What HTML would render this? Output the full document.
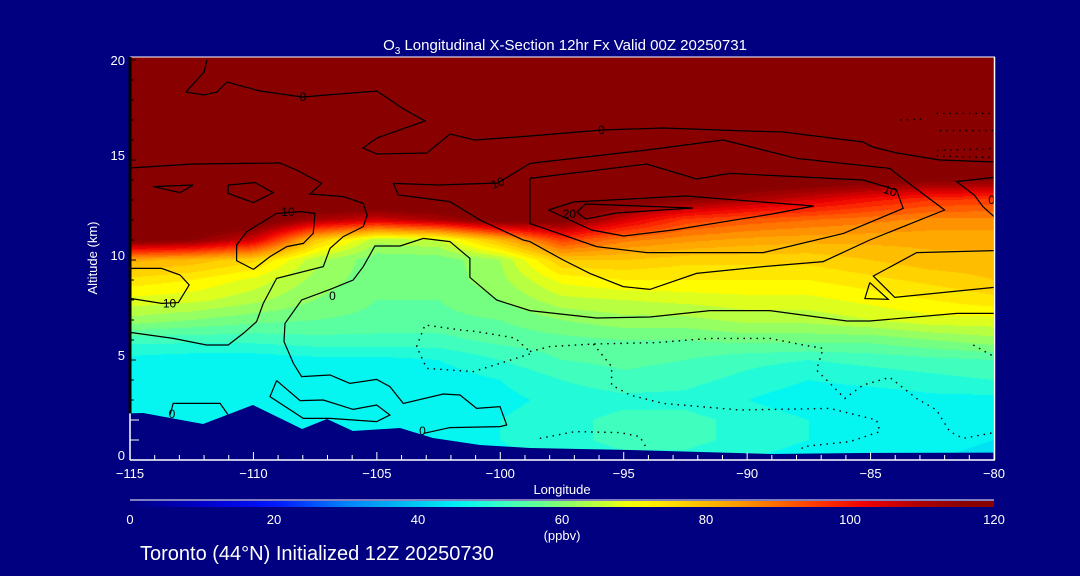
<!DOCTYPE html>
<html><head><meta charset="utf-8">
<style>
html,body{margin:0;padding:0;background:#000080;}
#wrap{position:relative;width:1080px;height:576px;overflow:hidden;background:#000080;font-family:"Liberation Sans",sans-serif;}
canvas{position:absolute;left:0;top:0;}
svg{position:absolute;left:0;top:0;}
</style></head>
<body>
<div id="wrap">
<canvas id="field" width="1080" height="576"></canvas>
<svg id="ov" width="1080" height="576" xmlns="http://www.w3.org/2000/svg">
<text x="565" y="50" fill="#fff" font-size="15" text-anchor="middle">O<tspan font-size="10" dy="4">3</tspan><tspan dy="-4"> Longitudinal X-Section 12hr  Fx Valid 00Z 20250731</tspan></text>
<text x="562" y="494" fill="#fff" font-size="13" text-anchor="middle">Longitude</text>
<text x="97" y="258" fill="#fff" font-size="13" text-anchor="middle" transform="rotate(-90 97 258)">Altitude (km)</text>
<text x="562" y="540" fill="#fff" font-size="13" text-anchor="middle">(ppbv)</text>
<text x="140" y="560" fill="#fff" font-size="20">Toronto (44°N) Initialized 12Z 20250730</text>
</svg>
</div>
<script>
// ---- data ----
const lons = [-115,-112.5,-110,-107.5,-105,-102.5,-100,-97.5,-95,-92.5,-90,-87.5,-85,-82.5,-80];
const alts = [0,1,2,3,4,5,6,7,8,9,10,11,12,13,14,15,16,17,18,19,20];
const o3_0  = [40,40,40,40,45,45,47,49,50,50,48,46,46,45,44];
const o3_1  = [44,44,45,45,46,46,48,50,52,52,50,48,47,46,45];
const o3_2  = [46,46,46,46,46,46,48,50,52,52,50,48,47,46,46];
const o3_3  = [45,45,45,45,45,45,47,49,50,50,48,46,46,47,47];
const o3_4  = [46,45,45,46,46,46,48,51,53,52,50,48,49,50,51];
const o3_5  = [47,46,46,47,47,48,51,54,55,54,52,51,52,53,54];
const o3_6  = [52,52,52,53,53,53,55,56,57,57,58,58,58,60,62];
const o3_7  = [62,60,58,57,56,56,57,60,62,62,64,64,66,68,68];
const o3_8  = [68,67,64,60,57,57,60,65,66,67,68,68,70,72,74];
const o3_9  = [74,72,68,62,58,58,62,70,72,72,72,72,74,76,78];
const o3_10 = [82,80,76,64,58,58,63,78,78,76,76,76,78,80,80];
const o3_11 = [118,115,105,78,64,66,80,95,88,85,83,82,82,82,82];
const o3_12 = [125,125,122,110,105,110,118,118,105,95,92,90,88,86,86];
const o3_13 = [125,125,125,125,125,125,125,125,120,115,110,105,100,96,95];
const o3_14 = [125,125,125,125,125,125,125,125,125,125,122,120,118,116,115];
const o3_hi = [125,125,125,125,125,125,125,125,125,125,125,125,125,125,125];
const o3 = [o3_0,o3_1,o3_2,o3_3,o3_4,o3_5,o3_6,o3_7,o3_8,o3_9,o3_10,o3_11,o3_12,o3_13,o3_14,o3_hi,o3_hi,o3_hi,o3_hi,o3_hi,o3_hi];

const terrainLon = [-115,-114.47,-112.04,-110.02,-108.03,-107.02,-105.97,-104.06,-103.13,-102.73,-100.82,-98.8,-94.75,-89.08,-85.3,-80];
const terrainAlt = [2.33,2.35,1.8,2.75,1.55,2.05,1.45,1.6,1.25,1.1,0.75,0.6,0.5,0.3,0.35,0.37];

const xTicks = [-115,-110,-105,-100,-95,-90,-85,-80];
const yTicks = [0,5,10,15,20];
const cbTicks = [0,20,40,60,80,100,120];

const cmapVals = [0,10,20,30,40,46,52,58,65,70,78,85,95,102,110,116,125];
const cmapCols = [[0,0,130],[0,0,200],[0,20,255],[0,130,250],[0,200,240],[0,245,245],[60,255,195],[110,255,135],[190,255,60],[255,255,0],[255,200,0],[255,150,0],[255,60,0],[240,0,0],[170,0,0],[136,0,0],[136,0,0]];

const cTop0 = [[-111.88,20],[-112.0,19.4],[-112.73,18.4],[-112.0,18.25],[-111.48,18.4],[-111.07,18.9],[-109.73,18.45],[-108.03,18.15],[-106.01,18.35],[-105.0,18.45],[-103.98,17.6],[-103.05,16.95],[-105.0,16.1],[-105.56,15.6],[-105.0,15.3],[-102.97,15.35],[-102.04,16.3],[-101.03,16.0],[-98.8,16.2],[-95.88,16.5],[-93.41,16.6],[-90.01,16.45],[-88.55,16.4],[-85.31,15.9],[-84.91,15.65],[-83.93,15.35],[-82.19,15.0],[-80,14.9]];
const cLeftLong = [[-115,14.6],[-112.45,14.8],[-108.93,14.85],[-108.25,14.5],[-107.24,13.83],[-107.71,13.3],[-106.36,13.17],[-105.55,12.83],[-105.39,12.25],[-105.55,11.67],[-106.36,11.17],[-106.9,10.58],[-107.17,9.67],[-109.06,9.08],[-109.6,7.83],[-109.87,6.92],[-110.41,6.33],[-111.02,5.75],[-111.9,5.75],[-113.25,6.08],[-115,6.38]];
const cLoopA = [[-114.06,13.67],[-112.44,13.75],[-112.97,13.37],[-114.06,13.67]];
const cLoopB = [[-111.02,13.75],[-109.94,13.87],[-109.2,13.37],[-110.0,12.87],[-111.02,13.33],[-111.02,13.75]];
const cTen = [[-110.0,9.53],[-110.68,9.97],[-110.68,10.75],[-110.27,11.42],[-109.06,12.33],[-108.11,12.42],[-107.51,12.33],[-107.58,11.33],[-107.98,10.83],[-108.65,10.67],[-109.33,10.17],[-110.0,9.53]];
const cTenLow = [[-115,9.58],[-113.72,9.58],[-112.97,9.25],[-112.6,8.75],[-113.04,7.87],[-113.72,7.83],[-115,8.08]];
const cMid0 = [[-103.12,1.33],[-102.04,1.62],[-100.01,1.67],[-99.74,1.75],[-100.01,2.67],[-100.96,2.58],[-101.63,3.25],[-102.31,3.3],[-103.93,2.83],[-104.47,3.67],[-105.01,4.03],[-106.09,3.83],[-106.9,4.25],[-108.05,4.17],[-108.38,4.83],[-108.76,5.92],[-108.72,6.83],[-108.05,8.0],[-106.9,8.53],[-105.96,9.0],[-105.55,9.67],[-105.08,10.7],[-104.06,10.7],[-103.12,11.08],[-102.04,10.92],[-101.23,10.08],[-101.23,9.13],[-100.15,8.0],[-98.8,7.47],[-96.1,7.1],[-93.94,7.15],[-91.51,7.47],[-89.08,7.47],[-85.96,6.95],[-85.03,6.95],[-81.5,7.33],[-80,7.33]];
const cZig = [[-109.06,3.97],[-109.33,3.17],[-107.98,2.08],[-106.9,2.08],[-105.01,1.92],[-104.47,2.25],[-105.01,2.75],[-105.96,2.53],[-107.17,3.0],[-108.11,2.97],[-109.06,3.97]];
const cSurf = [[-113.38,2.25],[-113.25,2.83],[-111.35,2.83],[-111.02,2.25]];
const cOuter = [[-98.8,14.83],[-100.1,13.85],[-102.5,13.75],[-104.33,13.83],[-104.13,13.25],[-102.04,12.92],[-100.82,12.0],[-99.07,11.0],[-98.8,10.92],[-97.45,10.0],[-96.37,9.33],[-95.02,8.67],[-93.94,8.53],[-92.05,9.33],[-89.35,9.67],[-86.92,9.92],[-85.03,11.0],[-82.0,12.5],[-83.54,13.92],[-84.22,14.58],[-88.0,15.08],[-90.97,16.0],[-94.07,15.5],[-98.8,14.83]];
const cInner = [[-98.8,14.08],[-94.07,14.8],[-92.05,14.05],[-90.7,14.33],[-85.3,14.0],[-83.95,13.5],[-83.68,12.58],[-86.1,11.33],[-89.35,10.37],[-94.07,10.37],[-96.1,10.67],[-98.8,11.83],[-98.8,14.08]];
const cLoop15 = [[-98.05,12.5],[-97.05,12.9],[-92.5,13.2],[-87.3,12.7],[-89.0,12.3],[-93.0,11.5],[-95.0,11.2],[-96.3,11.5],[-98.05,12.5]];
const c20 = [[-96.9,12.4],[-96.55,12.8],[-92.2,12.6],[-95.3,12.35],[-96.55,12.05],[-96.9,12.4]];
const cRightA = [[-80,10.47],[-83.13,10.37],[-84.89,9.2],[-84.02,8.13],[-80,8.63]];
const cTri = [[-85.03,8.87],[-85.23,8.07],[-84.28,8.03],[-85.03,8.87]];
const cRightB = [[-80,14.13],[-81.52,13.92],[-80.8,13.25],[-80.45,12.67],[-80,12.17]];
const solidContours = [cTop0,cLeftLong,cLoopA,cLoopB,cTen,cTenLow,cMid0,cZig,cSurf,cOuter,cInner,cLoop15,c20,cRightA,cTri,cRightB];

const d1 = [[-98.8,5.42],[-98.0,5.67],[-96.23,5.8],[-93.67,5.87],[-91.51,6.08],[-89.08,6.08],[-87.73,5.75],[-86.92,5.58],[-87.19,4.5],[-86.78,4.0],[-86.04,3.08],[-85.3,3.75],[-84.22,4.13],[-83.14,3.08],[-82.33,2.5],[-81.79,1.42],[-81.25,1.08],[-80,1.37]];
const d2 = [[-96.23,5.8],[-95.49,4.67],[-95.49,3.75],[-94.75,3.25],[-93.4,2.83],[-90.3,2.5],[-86.65,2.58],[-84.76,2.0],[-84.62,1.42],[-85.84,0.92],[-87.73,0.67],[-87.86,0.42]];
const d3 = [[-98.4,1.08],[-96.98,1.42],[-95.15,1.37],[-94.35,1.17],[-94.07,0.58]];
const d4 = [[-80.84,5.75],[-80,5.17]];
const d5 = [[-98.8,5.3],[-101.09,4.42],[-102.98,4.58],[-103.39,5.67],[-103.05,6.75],[-101.6,6.5],[-100.96,6.42],[-99.4,6.1],[-98.8,5.42]];
const d6 = [[-83.8,17.0],[-82.9,17.05]];
const d7 = [[-82.33,17.33],[-80,17.33]];
const d8 = [[-82.2,16.47],[-80,16.47]];
const d9 = [[-82.3,15.47],[-80,15.58]];
const d10 = [[-82.33,15.2],[-80,15.12]];
const dottedContours = [d1,d2,d3,d4,d5,d6,d7,d8,d9,d10];

const labelText = ["0","10","10","10","0","0","0","10","20","0","0"];
const labelLon  = [-108.0,-108.6,-113.4,-100.1,-106.8,-103.15,-113.3,-84.2,-97.2,-95.9,-80.1];
const labelAlt  = [18.15,12.4,7.83,13.85,8.2,1.45,2.3,13.45,12.3,16.5,13.0];
const labelAng  = [0,0,0,-20,0,0,0,20,0,0,0];

// ---- scales ----
const X0=130, X1=994, YB=460;
const X = lon => X0 + (lon+115)*(X1-X0)/35;
const Y = alt => YB - alt*20;

function cmap(v){
  if(v<=cmapVals[0]) return cmapCols[0];
  for(let i=1;i<cmapVals.length;i++){
    if(v<=cmapVals[i]){
      const t=(v-cmapVals[i-1])/(cmapVals[i]-cmapVals[i-1]);
      const a=cmapCols[i-1],b=cmapCols[i];
      return [a[0]+(b[0]-a[0])*t,a[1]+(b[1]-a[1])*t,a[2]+(b[2]-a[2])*t];
    }
  }
  return cmapCols[cmapCols.length-1];
}
function interp1(xs,ys,x){
  if(x<=xs[0]) return ys[0];
  for(let i=1;i<xs.length;i++) if(x<=xs[i]){const t=(x-xs[i-1])/(xs[i]-xs[i-1]);return ys[i-1]+(ys[i]-ys[i-1])*t;}
  return ys[ys.length-1];
}
function field(lon,alt){
  let fi=(lon-lons[0])/(lons[1]-lons[0]); fi=Math.max(0,Math.min(lons.length-1.0001,fi));
  let fj=(alt-alts[0])/(alts[1]-alts[0]); fj=Math.max(0,Math.min(alts.length-1.0001,fj));
  const i=Math.floor(fi),j=Math.floor(fj),tx=fi-i,ty=fj-j;
  const a=o3[j][i],b=o3[j][i+1],c=o3[j+1][i],d=o3[j+1][i+1];
  return (a*(1-tx)+b*tx)*(1-ty)+(c*(1-tx)+d*tx)*ty;
}

// ---- field ----
const cv=document.getElementById('field');
const ctx=cv.getContext('2d');
const img=ctx.createImageData(X1-X0,YB-57);
for(let py=57;py<YB;py++){
  const alt=Math.min(20,(YB-py-0.5)/20);
  for(let px=X0;px<X1;px++){
    const lon=-115+(px-X0+0.5)*35/(X1-X0);
    let v=field(lon,alt);
    v=Math.floor(v/3)*3+1.5;
    const c=cmap(v);
    const k=((py-57)*(X1-X0)+(px-X0))*4;
    img.data[k]=c[0];img.data[k+1]=c[1];img.data[k+2]=c[2];img.data[k+3]=255;
  }
}
ctx.putImageData(img,X0,57);

// ---- overlay ----
const NS="http://www.w3.org/2000/svg";
const ov=document.getElementById('ov');
function mk(tag,attrs,parent){const e=document.createElementNS(NS,tag);for(const k in attrs)e.setAttribute(k,attrs[k]);(parent||ov).appendChild(e);return e;}
const pts = arr => arr.map(p=>X(p[0]).toFixed(1)+","+Y(p[1]).toFixed(1)).join(" ");

const gC=mk('g',{});


solidContours.forEach(c=>{
  const e=mk('polyline',{points:pts(c),fill:'none',stroke:'#000','stroke-width':1.2},gC);
  
  
});
dottedContours.forEach(c=>{
  const e=mk('polyline',{points:pts(c),fill:'none',stroke:'#000','stroke-width':1.4,'stroke-dasharray':'1.5 5'},gC);
  
  
});
labelText.forEach((t,i)=>{
  const x=X(labelLon[i]),y=Y(labelAlt[i]);
  const e=mk('text',{x:x,y:y+4,'font-size':12,fill:'#000','text-anchor':'middle',transform:`rotate(${labelAng[i]} ${x} ${y})`},gC);
  e.textContent=t;
  
  
});

// terrain mask
const terr=terrainLon.map((l,i)=>[l,terrainAlt[i]]);
const tp=pts(terr)+` ${X1},${YB} ${X0},${YB}`;
const tg=mk('polygon',{points:tp,fill:'#000080'});



// frame
const fr=mk('g',{});


mk('line',{x1:X0,y1:57,x2:X1+1,y2:57,stroke:'#fff','stroke-width':1},fr);
mk('line',{x1:X1+0.5,y1:57,x2:X1+0.5,y2:YB,stroke:'#fff','stroke-width':1.5},fr);
mk('line',{x1:X0,y1:YB,x2:X1+1,y2:YB,stroke:'#fff','stroke-width':1.5},fr);
mk('line',{x1:X0,y1:57,x2:X0,y2:YB,stroke:'#fff','stroke-width':1.5},fr);
mk('line',{x1:X0,y1:57,x2:X0,y2:Y(terrainAlt[0]),stroke:'#000','stroke-width':3},fr);

// x ticks
const gx=mk('g',{});


for(let l=-115;l<=-80;l++){
  const maj=xTicks.includes(l);
  mk('line',{x1:X(l),y1:YB,x2:X(l),y2:YB-(maj?8:5),stroke:'#fff','stroke-width':1},gx);
}
xTicks.forEach(l=>{
  const e=mk('text',{x:X(l),y:478,fill:'#fff','font-size':13,'text-anchor':'middle'},gx);
  e.textContent=(l<0?'\u2212':'')+Math.abs(l);
  
  
});
// y ticks
const gy=mk('g',{});


for(let a=0;a<=20;a++){
  const maj=yTicks.includes(a);
  const under=a<=interp1(terrainLon,terrainAlt,-115);
  mk('line',{x1:X0,y1:Y(a),x2:X0+(under?9:(maj?6:4)),y2:Y(a),stroke:under?'#fff':'#000','stroke-width':1},gy);
}
yTicks.forEach(a=>{
  const e=mk('text',{x:125,y:Y(a)+(a===20?5:0),fill:'#fff','font-size':13,'text-anchor':'end'},gy);
  e.textContent=a;
  
  
});

// colorbar
const defs=mk('defs',{});
const lg=mk('linearGradient',{id:'cbg',x1:0,x2:1,y1:0,y2:0},defs);
for(let v=0;v<=120;v+=3){
  const c=cmap(v);
  mk('stop',{offset:(v/120).toFixed(4),'stop-color':`rgb(${c.map(Math.round).join(',')})`},lg);
}
const cb=mk('g',{});


mk('line',{x1:X0,y1:500,x2:X1,y2:500,stroke:'#fff','stroke-width':1},cb);
mk('rect',{x:X0,y:501,width:X1-X0,height:6,fill:'url(#cbg)'},cb);
cbTicks.forEach(v=>{
  const e=mk('text',{x:X0+(X1-X0)*v/120,y:524,fill:'#fff','font-size':13,'text-anchor':'middle'},cb);
  e.textContent=v;
  
  
});
</script>
</body></html>
